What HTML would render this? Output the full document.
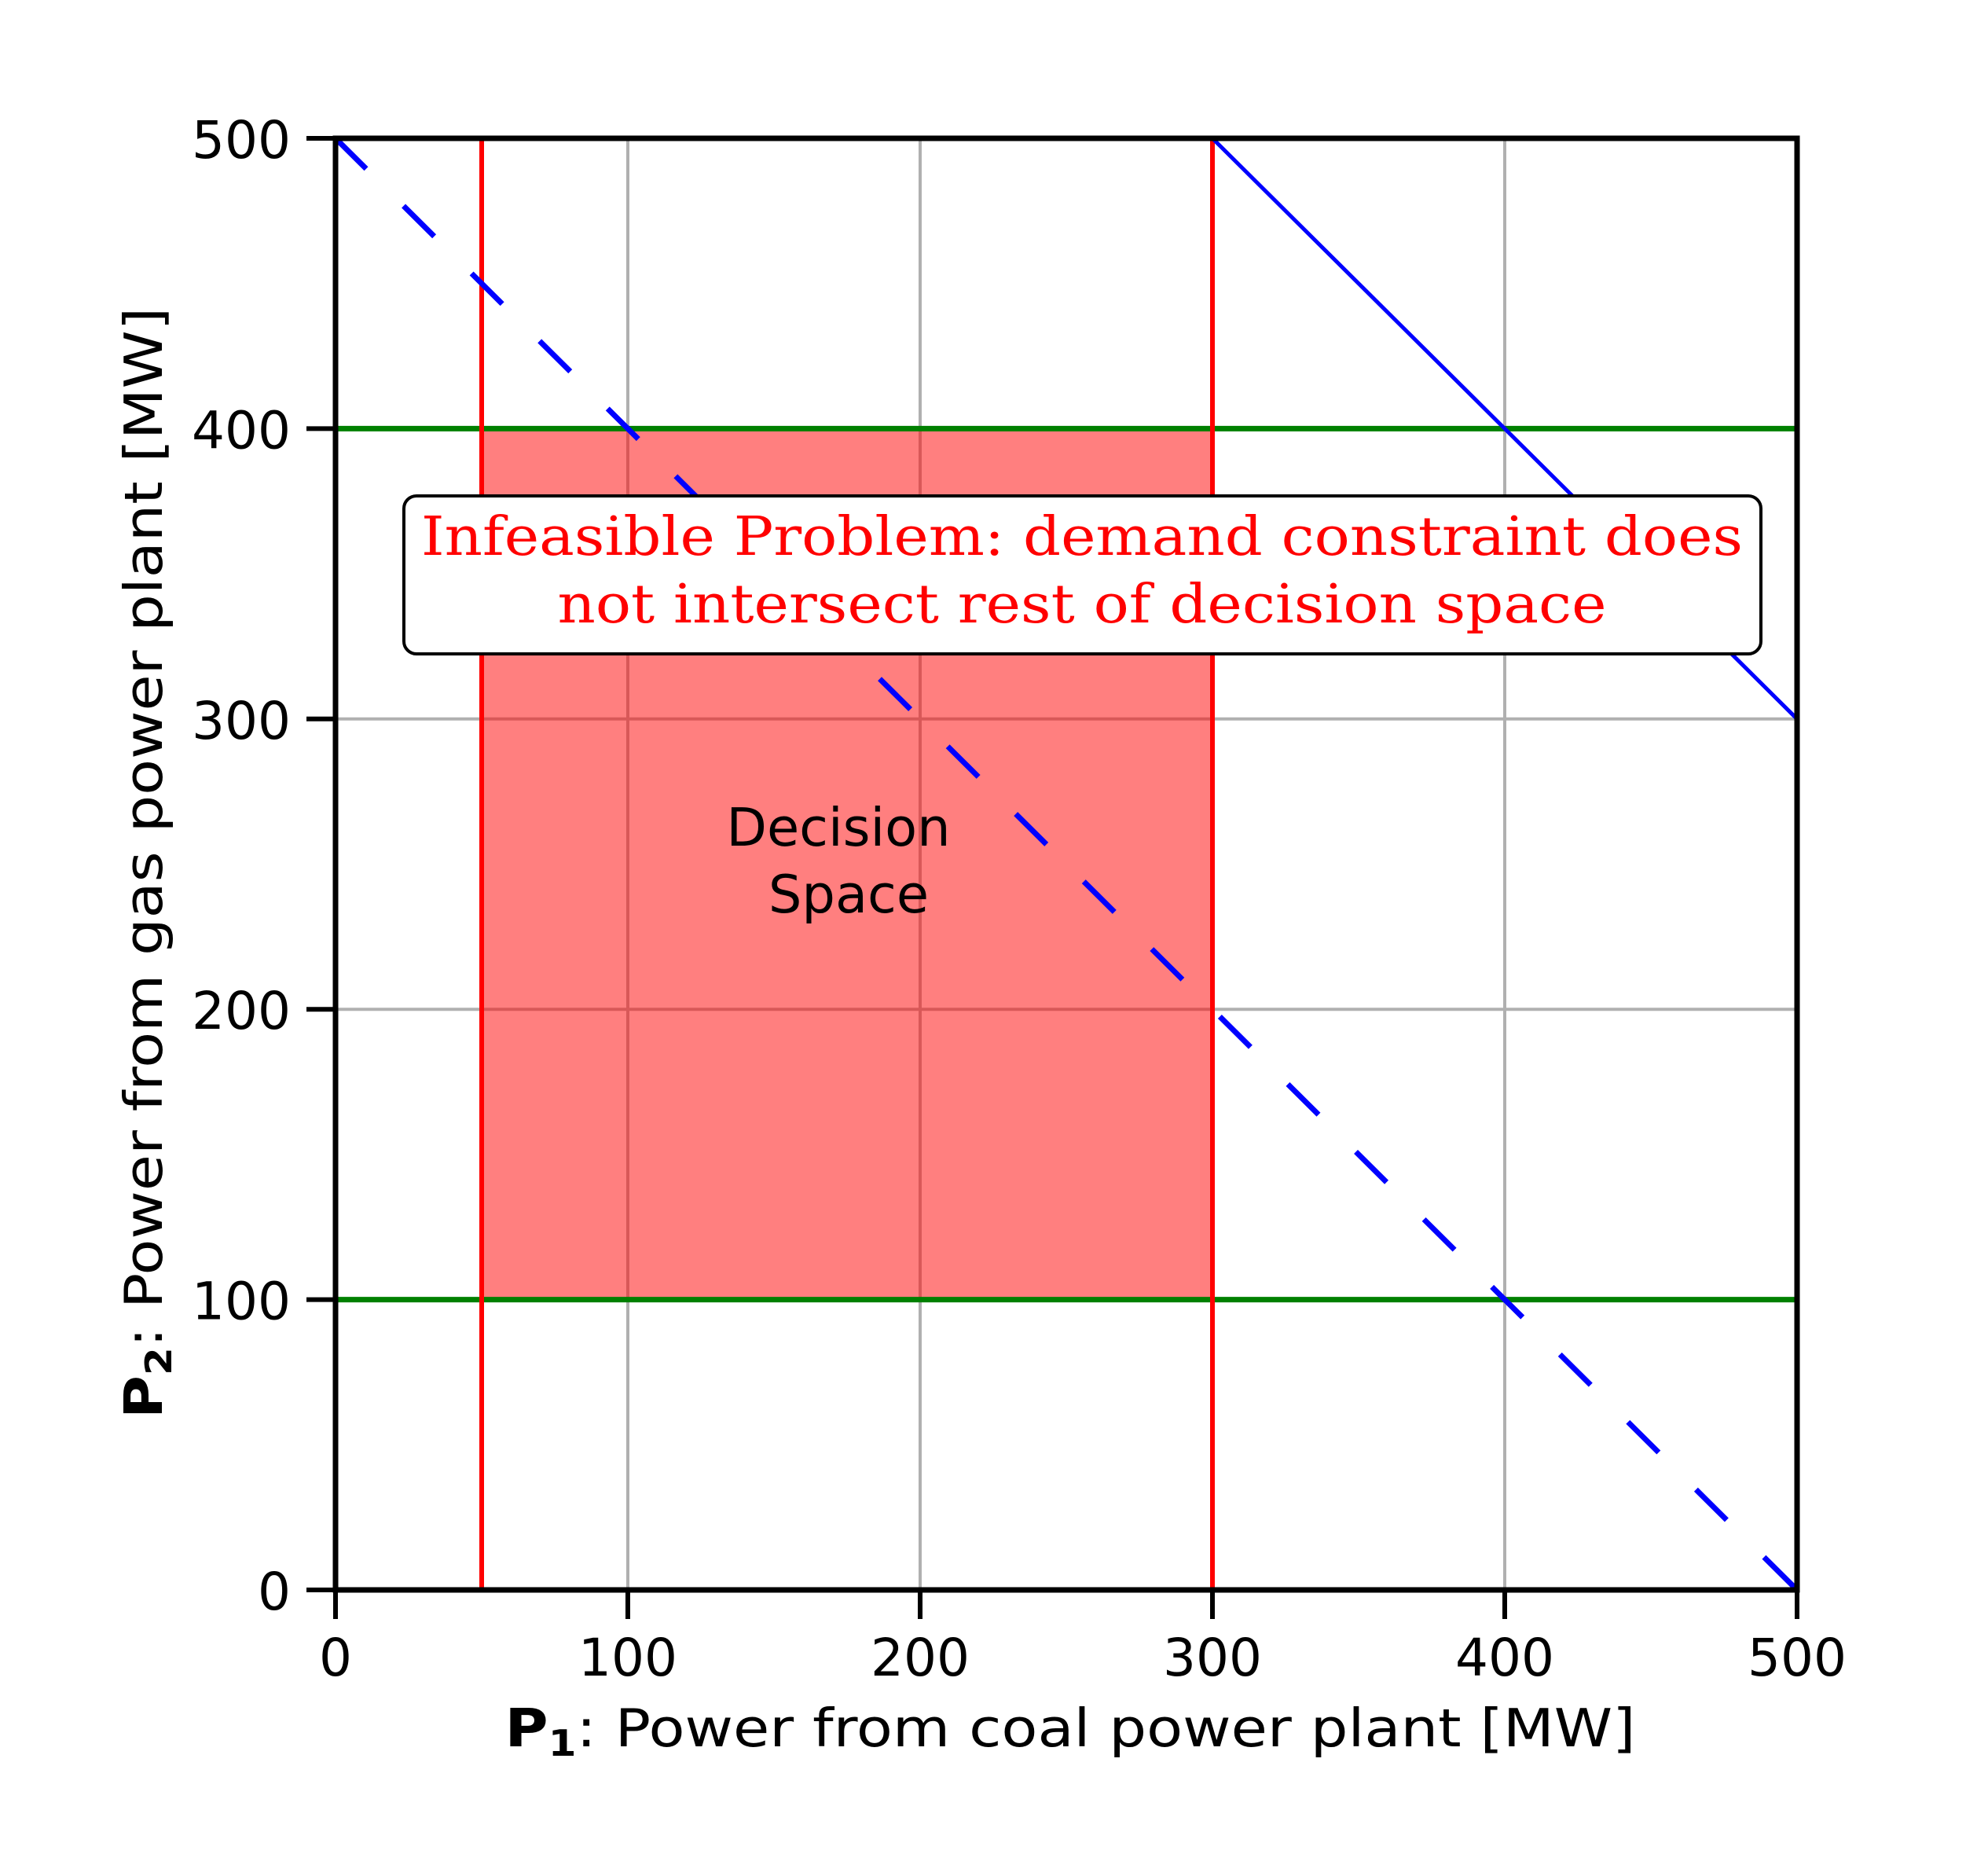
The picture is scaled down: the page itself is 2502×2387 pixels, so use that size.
<!DOCTYPE html>
<html><head><meta charset="utf-8"><style>
html,body{margin:0;padding:0;background:#fff}
svg{display:block}
text{font-family:"DejaVu Sans","Liberation Sans",sans-serif;fill:#000}
</style></head><body>
<svg id="chart" width="2502" height="2387" viewBox="0 0 2502 2387" xmlns="http://www.w3.org/2000/svg">
<rect width="2502" height="2387" fill="#fff"/>
<g id="grid"></g>
<g id="marks"></g>
<g id="axes"></g>
<g>
<rect x="514" y="631" width="1727" height="201" rx="16" fill="#fff" stroke="#000" stroke-width="4"/>
<text x="1377" y="706" text-anchor="middle" font-size="68" textLength="1682" lengthAdjust="spacingAndGlyphs" style="font-family:'DejaVu Serif','Liberation Serif',serif;fill:#ff0000">Infeasible Problem: demand constraint does</text>
<text x="1377" y="792" text-anchor="middle" font-size="68" textLength="1335" lengthAdjust="spacingAndGlyphs" style="font-family:'DejaVu Serif','Liberation Serif',serif;fill:#ff0000">not intersect rest of decision space</text>
</g>
<text x="1067" y="1076" text-anchor="middle" font-size="67">Decision</text>
<text x="1080" y="1161" text-anchor="middle" font-size="67">Space</text>
<text x="1362" y="2222" text-anchor="middle" font-size="67" textLength="1439" lengthAdjust="spacingAndGlyphs"><tspan font-weight="bold">P<tspan font-size="46" dy="12">1</tspan></tspan><tspan dy="-12">: Power from coal power plant [MW]</tspan></text>
<text transform="translate(206,1098) rotate(-90)" text-anchor="middle" font-size="67" textLength="1414" lengthAdjust="spacingAndGlyphs"><tspan font-weight="bold">P<tspan font-size="46" dy="12">2</tspan></tspan><tspan dy="-12">: Power from gas power plant [MW]</tspan></text>
</svg>
<script>
const xTicks=[0,100,200,300,400,500];
const yTicks=[0,100,200,300,400,500];
const p1Limits=[50,300];
const p2Limits=[100,400];
const demandLow=[[0,500],[500,0]];
const demandHigh=[[300,500],[500,300]];
const L=427,R=2287,T=176,B=2023;
const sx=v=>L+v/500*(R-L);
const sy=v=>B-v/500*(B-T);
const NS='http://www.w3.org/2000/svg';
function mk(parent,tag,attrs){const e=document.createElementNS(NS,tag);for(const k in attrs)e.setAttribute(k,attrs[k]);parent.appendChild(e);return e;}
const grid=document.getElementById('grid'),marks=document.getElementById('marks'),axes=document.getElementById('axes');
xTicks.forEach(v=>{
 const l=mk(grid,'line',{x1:sx(v),x2:sx(v),y1:T,y2:B,stroke:'#b0b0b0','stroke-width':4});
 
 
});
yTicks.forEach(v=>{
 const l=mk(grid,'line',{x1:L,x2:R,y1:sy(v),y2:sy(v),stroke:'#b0b0b0','stroke-width':4});
 
 
});
const fill=mk(marks,'rect',{x:sx(p1Limits[0]),y:sy(p2Limits[1]),width:sx(p1Limits[1])-sx(p1Limits[0]),height:sy(p2Limits[0])-sy(p2Limits[1]),fill:'#ff0000','fill-opacity':0.5});


p2Limits.forEach(v=>{
 const l=mk(marks,'line',{x1:L,x2:R,y1:sy(v),y2:sy(v),stroke:'#008000','stroke-width':7});
 
 
});
p1Limits.forEach(v=>{
 const l=mk(marks,'line',{x1:sx(v),x2:sx(v),y1:T,y2:B,stroke:'#ff0000','stroke-width':6});
 
 
});
const d1=mk(marks,'line',{x1:sx(demandLow[0][0]),y1:sy(demandLow[0][1]),x2:sx(demandLow[1][0]),y2:sy(demandLow[1][1]),stroke:'#0000ff','stroke-width':7,'stroke-dasharray':'55 67'});


const d2=mk(marks,'line',{x1:sx(demandHigh[0][0]),y1:sy(demandHigh[0][1]),x2:sx(demandHigh[1][0]),y2:sy(demandHigh[1][1]),stroke:'#0000ff','stroke-width':5});


const frame=mk(axes,'rect',{x:L,y:T,width:R-L,height:B-T,fill:'none',stroke:'#000','stroke-width':7});


xTicks.forEach(v=>{
 const t=mk(axes,'line',{x1:sx(v),x2:sx(v),y1:B,y2:B+37,stroke:'#000','stroke-width':6});
 
 
 const s=mk(axes,'text',{x:sx(v),y:2132,'text-anchor':'middle','font-size':66});
 s.textContent=v;
 
 
});
yTicks.forEach(v=>{
 const t=mk(axes,'line',{x1:L-37,x2:L,y1:sy(v),y2:sy(v),stroke:'#000','stroke-width':6});
 
 
 const s=mk(axes,'text',{x:370,y:sy(v)+25,'text-anchor':'end','font-size':66});
 s.textContent=v;
 
 
});
</script>
</body></html>
